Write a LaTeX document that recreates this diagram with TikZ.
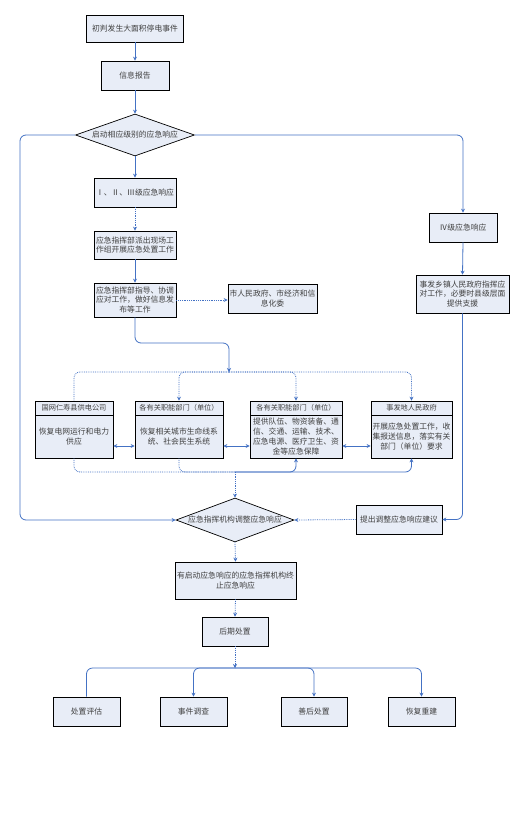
\documentclass[tikz,border=0pt]{standalone}
\usepackage{fontspec}
\setmainfont{Noto Sans CJK SC}
\usetikzlibrary{shapes.geometric,arrows.meta}
\definecolor{lineblue}{HTML}{4472C4}
\definecolor{boxfill}{HTML}{E8EDF7}
\definecolor{txt}{HTML}{404040}
\begin{document}
\begin{tikzpicture}[x=1pt,y=-1pt,
  >={Stealth[length=4pt,width=4pt]},
  box/.style={draw=black, line width=0.7pt, fill=boxfill, text=txt, align=center,
    inner sep=1pt, font=\fontsize{7.8}{9.8}\selectfont},
  hdr/.style={box, font=\fontsize{7.2}{9}\selectfont},
  dia/.style={box, shape=diamond, inner sep=0pt},
  conn/.style={draw=lineblue, line width=0.8pt},
  dconn/.style={conn, densely dotted},
  rc/.style={rounded corners=6pt}]
\useasboundingbox (0,0) rectangle (512,816);
\fill[white] (0,0) rectangle (512,816);

% top column
\node[box, minimum width=97, minimum height=27] (n1) at (135,28.5) {初判发生大面积停电事件};
\node[box, minimum width=68, minimum height=29] (n2) at (135,75.5) {信息报告};
\node[dia, shape aspect=2.83, minimum width=119, minimum height=42] (d1) at (135,135) {启动相应级别的应急响应};
\node[box, minimum width=82, minimum height=29] (n3) at (135,192.5) {Ⅰ、Ⅱ、Ⅲ级应急响应};
\node[box, minimum width=82, minimum height=28] (n4) at (135,245) {应急指挥部派出现场工\\作组开展应急处置工作};
\node[box, minimum width=82, minimum height=34] (n5) at (135,300) {应急指挥部指导、协调\\应对工作，做好信息发\\布等工作};
\node[box, minimum width=89, minimum height=29] (n6) at (272.5,298.5) {市人民政府、市经济和信\\息化委};

% right column
\node[box, minimum width=68, minimum height=29] (iv) at (463,227.5) {Ⅳ级应急响应};
\node[box, minimum width=93, minimum height=38] (xz) at (462.5,294) {事发乡镇人民政府指挥应\\对工作，必要时县级层面\\提供支援};

% row of four units
\node[hdr, minimum width=78, minimum height=14] (g1h) at (74,408) {国网仁寿县供电公司};
\node[box, minimum width=78, minimum height=43] (g1b) at (74,436.5) {恢复电网运行和电力\\供应};
\node[hdr, minimum width=88, minimum height=14] (g2h) at (179,408) {各有关职能部门（单位）};
\node[box, minimum width=88, minimum height=43] (g2b) at (179,436.5) {恢复相关城市生命线系\\统、社会民生系统};
\node[hdr, minimum width=92, minimum height=14] (g3h) at (296,408) {各有关职能部门（单位）};
\node[box, minimum width=92, minimum height=43] (g3b) at (296,436.5) {提供队伍、物资装备、通\\信、交通、运输、技术、\\应急电源、医疗卫生、资\\金等应急保障};
\node[hdr, minimum width=81, minimum height=14] (g4h) at (411.5,408) {事发地人民政府};
\node[box, minimum width=81, minimum height=43] (g4b) at (411.5,436.5) {开展应急处置工作，收\\集报送信息，落实有关\\部门（单位）要求};

% adjustment
\node[dia, shape aspect=2.68, minimum width=118, minimum height=44] (d2) at (235,520) {应急指挥机构调整应急响应};
\node[box, minimum width=86, minimum height=29] (tc) at (399,519.5) {提出调整应急响应建议};
\node[box, minimum width=121, minimum height=37] (n7) at (235.5,580.5) {有启动应急响应的应急指挥机构终\\止应急响应};
\node[box, minimum width=66, minimum height=29] (n8) at (235,631.5) {后期处置};

% final row
\node[box, minimum width=67, minimum height=29] (p1) at (86.5,711.5) {处置评估};
\node[box, minimum width=67, minimum height=29] (p2) at (193.5,711.5) {事件调查};
\node[box, minimum width=66, minimum height=29] (p3) at (314,711.5) {善后处置};
\node[box, minimum width=67, minimum height=29] (p4) at (421.5,711.5) {恢复重建};

% coordinates
\coordinate (lc) at (20,330);
\coordinate (k1) at (229,343);
\coordinate (c372) at (229,372);
\coordinate (c472) at (235,472);
\coordinate (c668) at (235,668);
\coordinate (y446) at (0,446);

% connectors, top
\draw[conn,->] (n1.south) -- (n2.north);
\draw[conn,->] (n2.south) -- (d1.north);
\draw[conn,->] (d1.south) -- (n3.north);
\draw[dconn,->] (n3.south) -- (n4.north);
\draw[conn,->] (n4.south) -- (n5.north);
\draw[dconn,->] (n5.east) -- (n6.west |- n5.east);
\draw[conn,->,rc] (d1.east) -| (iv.north);
\draw[conn,->] (iv.south) -- (xz.north);
\draw[conn,->,rc] (xz.south) |- (tc.east);
\draw[conn,->,rc] (d1.west) -| (lc) |- (d2.west);

% distribution bus
\draw[conn,->,rc] (n5.south) |- (k1) -- (c372);
\draw[dconn,rc] (c372) -| (g1h.north);
\draw[dconn,->,rc] (c372) -| (g2h.north);
\draw[dconn,->,rc] (c372) -| (g3h.north);
\draw[dconn,->,rc] (c372) -| (g4h.north);

% links between units
\draw[conn,<->] (g1b.east |- y446) -- (g2b.west |- y446);
\draw[conn,<->] (g2b.east |- y446) -- (g3b.west |- y446);
\draw[conn,<->] (g3b.east |- y446) -- (g4b.west |- y446);

% collecting bus
\draw[dconn,rc] (g1b.south) |- (c472);
\draw[dconn,rc] (g2b.south) |- (c472);
\draw[conn,<-,rc] (g3b.south) |- (c472);
\draw[conn,<-,rc] (g4b.south) |- (c472);
\draw[dconn,->] (c472) -- (d2.north);

% lower part
\draw[dconn,->] (tc.west) -- (d2.east);
\draw[dconn,->] (d2.south) -- (n7.north);
\draw[dconn,->] (n7.south) -- (n8.north);
\draw[dconn,->] (n8.south) -- (c668);
\draw[conn,rc] (c668) -| (p1.north);
\draw[conn,->,rc] (c668) -| (p2.north);
\draw[conn,->,rc] (c668) -| (p3.north);
\draw[conn,->,rc] (c668) -| (p4.north);
\end{tikzpicture}
\end{document}
